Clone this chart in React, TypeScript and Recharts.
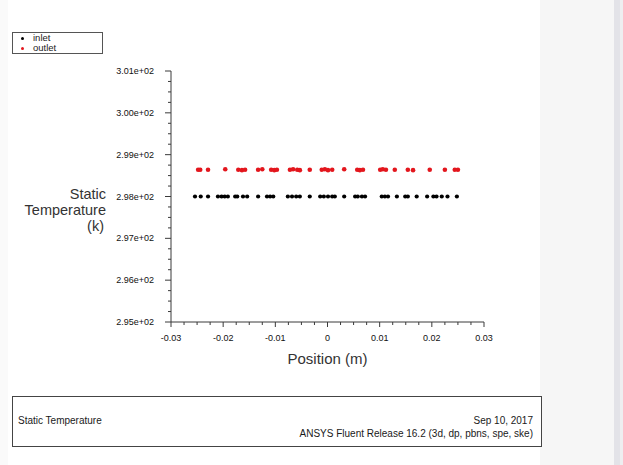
import React from 'react';
import { ScatterChart, Scatter, XAxis, YAxis } from 'recharts';

// position (m) of each facet centroid
const inletX = [
  -0.0254, -0.0243, -0.0229, -0.021, -0.0203, -0.0197, -0.0191, -0.0177, -0.0173,
  -0.0162, -0.0154, -0.0133, -0.0116, -0.011, -0.0104, -0.0076, -0.0068, -0.006,
  -0.0053, -0.0034, -0.0014, -0.0007, 0.0001, 0.0009, 0.0014, 0.0032, 0.0053, 0.0058,
  0.0066, 0.0072, 0.0104, 0.011, 0.0116, 0.0133, 0.0149, 0.0154, 0.0171, 0.0191,
  0.0203, 0.0209, 0.0219, 0.023, 0.0248,
];
const inletT = inletX.map(() => 298.0);

const outletX = [
  -0.0248, -0.0244, -0.0229, -0.0196, -0.0171, -0.0164, -0.0158, -0.0133, -0.0125,
  -0.0108, -0.0102, -0.0097, -0.0072, -0.0066, -0.0058, -0.0053, -0.0034, -0.0011,
  -0.0005, 0.0001, 0.0009, 0.0032, 0.0057, 0.0062, 0.0068, 0.0101, 0.0106, 0.0112,
  0.0129, 0.0154, 0.0164, 0.0196, 0.0225, 0.0244, 0.025,
];
const outletT = [
  298.64, 298.64, 298.64, 298.65, 298.64, 298.63, 298.64, 298.64, 298.65,
  298.64, 298.63, 298.64, 298.64, 298.65, 298.64, 298.63, 298.64, 298.64,
  298.65, 298.63, 298.64, 298.65, 298.64, 298.63, 298.64, 298.64, 298.65, 298.64,
  298.64, 298.64, 298.63, 298.64, 298.64, 298.64, 298.64,
];

const series = [
  { name: 'inlet', color: '#000000' },
  { name: 'outlet', color: '#e3161d' },
];

const xMajor = [-0.03, -0.02, -0.01, 0, 0.01, 0.02, 0.03];
const yMajor = [295, 296, 297, 298, 299, 300, 301];

// three minor ticks between majors
const subdivide = (major: number[]) => {
  const out: number[] = [];
  for (let i = 0; i < major.length; i++) {
    out.push(major[i]);
    if (i < major.length - 1) {
      const step = (major[i + 1] - major[i]) / 4;
      for (let k = 1; k < 4; k++) out.push(+(major[i] + step * k).toFixed(6));
    }
  }
  return out;
};
const xTicks = subdivide(xMajor);
const yTicks = subdivide(yMajor);

const inletData = inletX.map((x, i) => ({ x, y: inletT[i] }));
const outletData = outletX.map((x, i) => ({ x, y: outletT[i] }));

const FONT = '"Liberation Sans", Arial, sans-serif';
const AXIS = '#3a3a3a';

const isMajor = (v: number, list: number[]) => list.some((m) => Math.abs(m - v) < 1e-9);

const fmtX = (v: number) => (Math.abs(v) < 1e-9 ? '0' : String(+v.toFixed(2)));
const fmtY = (v: number) => v.toExponential(2).replace(/e\+(\d)$/, 'e+0$1');

const XTick = ({ x, y, payload }: any) => {
  const major = isMajor(payload.value, xMajor);
  return (
    <g>
      <line x1={x} x2={x} y1={y} y2={y + (major ? 5 : 3)} stroke={AXIS} strokeWidth={1} />
      {major && (
        <text x={x} y={y + 19} textAnchor="middle" fontSize={9} fill="#111" fontFamily={FONT}>
          {fmtX(payload.value)}
        </text>
      )}
    </g>
  );
};

const YTick = ({ x, y, payload }: any) => {
  const major = isMajor(payload.value, yMajor);
  return (
    <g>
      <line x1={x} x2={x - (major ? 6 : 3)} y1={y} y2={y} stroke={AXIS} strokeWidth={1} />
      {major && (
        <text x={x - 17} y={y + 3} textAnchor="end" fontSize={9} fill="#111" fontFamily={FONT}>
          {fmtY(payload.value)}
        </text>
      )}
    </g>
  );
};

const YLabel = () => (
  <text textAnchor="end" fontSize={14.5} fill="#333" fontFamily={FONT}>
    <tspan x={106} y={199}>Static</tspan>
    <tspan x={106} y={215}>Temperature</tspan>
    <tspan x={104} y={231}>(k)</tspan>
  </text>
);

const XLabel = () => (
  <text x={327.5} y={364} textAnchor="middle" fontSize={15} fill="#333" fontFamily={FONT}>
    Position (m)
  </text>
);

export default function App() {
  return (
    <div
      style={{
        position: 'absolute',
        left: 0,
        top: 0,
        width: 623,
        height: 465,
        background: '#fff',
        overflow: 'hidden',
      }}
    >
      <div style={{ position: 'absolute', left: 0, top: 0, width: 8, height: 465, background: '#fafafa' }} />
      <div style={{ position: 'absolute', left: 540, top: 0, width: 74, height: 465, background: '#f6f6f6' }} />
      <div style={{ position: 'absolute', left: 614, top: 0, width: 6, height: 465, background: '#e3e3e8' }} />
      <div style={{ position: 'absolute', left: 620, top: 0, width: 3, height: 465, background: '#eeeef0' }} />

      <div style={{ position: 'absolute', left: 0, top: 0 }}>
        <ScatterChart width={623} height={465} margin={{ top: 71, right: 139, bottom: 93, left: 0 }}>
          <XAxis
            type="number"
            dataKey="x"
            domain={[-0.03, 0.03]}
            ticks={xTicks}
            interval={0}
            tick={<XTick />}
            tickLine={false}
            tickSize={0}
            tickMargin={0}
            height={50}
            allowDataOverflow
            stroke={AXIS}
            label={<XLabel />}
          />
          <YAxis
            type="number"
            dataKey="y"
            domain={[295, 301]}
            ticks={yTicks}
            interval={0}
            tick={<YTick />}
            tickLine={false}
            tickSize={0}
            tickMargin={0}
            width={171}
            allowDataOverflow
            stroke={AXIS}
            label={<YLabel />}
          />
          <Scatter
            name={series[0].name}
            data={inletData}
            fill={series[0].color}
            isAnimationActive={false}
            shape={(p: any) => <circle cx={p.cx} cy={p.cy} r={2.1} fill={series[0].color} />}
          />
          <Scatter
            name={series[1].name}
            data={outletData}
            fill={series[1].color}
            isAnimationActive={false}
            shape={(p: any) => <circle cx={p.cx} cy={p.cy} r={2.3} fill={series[1].color} />}
          />
        </ScatterChart>
      </div>

      <div
        style={{
          position: 'absolute',
          left: 12,
          top: 32,
          width: 91,
          height: 22,
          border: '1px solid #555',
          background: '#fff',
          fontFamily: FONT,
          fontSize: 9.5,
          lineHeight: '10px',
          color: '#222',
          boxSizing: 'border-box',
        }}
      >
        {series.map((s) => (
          <div key={s.name} style={{ display: 'flex', alignItems: 'center', height: 10 }}>
            <span
              style={{
                width: 3,
                height: 3,
                borderRadius: 2,
                background: s.color,
                marginLeft: 8,
                marginRight: 9,
              }}
            />
            <span>{s.name}</span>
          </div>
        ))}
      </div>

      <div
        style={{
          position: 'absolute',
          left: 12,
          top: 396,
          width: 530,
          height: 51,
          border: '1px solid #444',
          boxSizing: 'border-box',
          background: '#fff',
          fontFamily: FONT,
          fontSize: 10,
          color: '#1a1a1a',
        }}
      >
        <div style={{ position: 'absolute', left: 5, top: 18 }}>Static Temperature</div>
        <div style={{ position: 'absolute', right: 8, top: 17, textAlign: 'right', lineHeight: '13px' }}>
          Sep 10, 2017
          <br />
          ANSYS Fluent Release 16.2 (3d, dp, pbns, spe, ske)
        </div>
      </div>
    </div>
  );
}
